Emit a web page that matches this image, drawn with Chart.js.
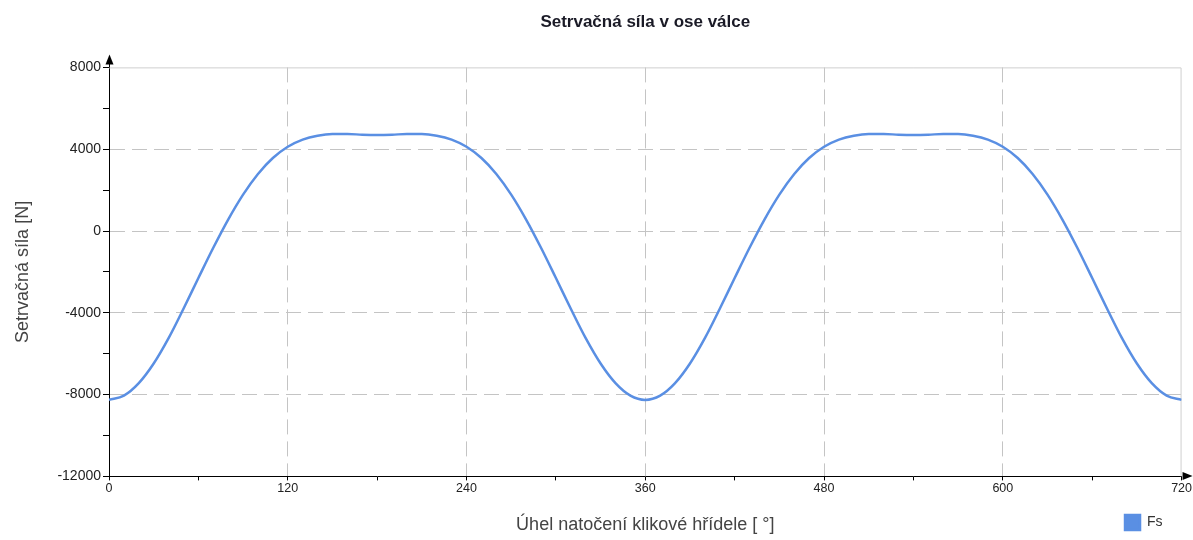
<!DOCTYPE html>
<html>
<head>
<meta charset="utf-8">
<title>Setrvačná síla v ose válce</title>
<script src="https://cdn.jsdelivr.net/npm/chart.js@4/dist/chart.umd.min.js"></script>
<style>
  html, body { margin: 0; padding: 0; background: #fff; }
  #wrap { width: 1193px; height: 540px; }
</style>
</head>
<body>
<div id="wrap"><canvas id="chart"></canvas></div>
<script>
// crank angle [deg], every 10 degrees
const angles = [
  0, 10, 20, 30, 40, 50, 60, 70, 80, 90, 100, 110, 120, 130, 140, 150, 160, 170,
  180, 190, 200, 210, 220, 230, 240, 250, 260, 270, 280, 290, 300, 310, 320, 330, 340, 350,
  360, 370, 380, 390, 400, 410, 420, 430, 440, 450, 460, 470, 480, 490, 500, 510, 520, 530,
  540, 550, 560, 570, 580, 590, 600, 610, 620, 630, 640, 650, 660, 670, 680, 690, 700, 710, 720
];

// inertial force Fs [N]
const fsValues = [
  -8260, -8050, -7440, -6480, -5240, -3800, -2300, -820, 560, 1780, 2790, 3570, 4120, 4470, 4660, 4740, 4740, 4712,
  4700, 4712, 4740, 4740, 4660, 4470, 4120, 3570, 2790, 1780, 560, -820, -2300, -3800, -5240, -6480, -7440, -8050,
  -8260, -8050, -7440, -6480, -5240, -3800, -2300, -820, 560, 1780, 2790, 3570, 4120, 4470, 4660, 4740, 4740, 4712,
  4700, 4712, 4740, 4740, 4660, 4470, 4120, 3570, 2790, 1780, 560, -820, -2300, -3800, -5240, -6480, -7440, -8050,
  -8260
];

const xLabelStep = 120;   // labelled x ticks: 0, 120, ... 720
const yLabelStep = 4000;  // labelled y ticks: -12000 ... 8000
const xMin = 0, xMax = 720;
const yMin = -12000, yMax = 8000;

const lineColor = '#5a8fe3';
const gridColor = '#c4c4c4';

// light frame on top and right side of the plot
const frame = {
  id: 'frame',
  beforeDatasetsDraw(chart) {
    const { ctx, chartArea: a } = chart;
    ctx.save();
    ctx.strokeStyle = '#cfcfcf';
    ctx.lineWidth = 1;
    ctx.beginPath();
    ctx.moveTo(a.left, a.top + 0.5);
    ctx.lineTo(a.right - 0.5, a.top + 0.5);
    ctx.lineTo(a.right - 0.5, a.bottom);
    ctx.stroke();
    ctx.restore();
  }
};

// arrow heads on the axes
const axisArrows = {
  id: 'axisArrows',
  afterDraw(chart) {
    const { ctx, chartArea: a } = chart;
    const x0 = a.left + 0.5, y0 = a.bottom - 0.5;
    ctx.save();
    ctx.strokeStyle = '#000';
    ctx.fillStyle = '#000';
    ctx.lineWidth = 1;
    ctx.beginPath();
    ctx.moveTo(x0, a.top);
    ctx.lineTo(x0, a.top - 6);
    ctx.stroke();
    ctx.beginPath();
    ctx.moveTo(x0, a.top - 13);
    ctx.lineTo(x0 - 4, a.top - 3);
    ctx.lineTo(x0 + 4, a.top - 3);
    ctx.closePath();
    ctx.fill();
    ctx.beginPath();
    ctx.moveTo(a.right + 11, y0);
    ctx.lineTo(a.right + 1, y0 - 4);
    ctx.lineTo(a.right + 1, y0 + 4);
    ctx.closePath();
    ctx.fill();
    ctx.restore();
  }
};

// nudge the legend a little left, as in the original
const legendShift = {
  id: 'legendShift',
  afterLayout(chart) {
    chart.legend.left -= 9;
    chart.legend.right -= 9;
  }
};

const ctx = document.getElementById('chart').getContext('2d');
new Chart(ctx, {
  type: 'line',
  data: {
    datasets: [{
      label: 'Fs',
      data: angles.map((a, i) => ({ x: a, y: fsValues[i] })),
      borderColor: lineColor,
      backgroundColor: lineColor,
      borderWidth: 2.5,
      pointRadius: 0,
      cubicInterpolationMode: 'monotone',
      fill: false,
    }],
  },
  options: {
    responsive: true,
    maintainAspectRatio: false,
    animation: false,
    layout: { padding: { left: 0, right: 0, top: 0, bottom: 0 } },
    font: { family: 'Arial, "Liberation Sans", sans-serif' },
    plugins: {
      title: {
        display: true,
        text: 'Setrvačná síla v ose válce',
        fullSize: false,
        color: '#1a1a26',
        font: { size: 17, weight: 'bold', family: 'Arial, "Liberation Sans", sans-serif' },
        padding: { top: 12, bottom: 35 },
      },
      legend: {
        position: 'bottom',
        align: 'end',
        fullSize: false,
        labels: {
          boxWidth: 15,
          boxHeight: 15,
          color: '#333',
          padding: 10,
          font: { size: 14, family: 'Arial, "Liberation Sans", sans-serif' },
        },
      },
      tooltip: { enabled: false },
    },
    scales: {
      x: {
        type: 'linear',
        min: xMin,
        max: xMax,
        ticks: {
          stepSize: 60,
          color: '#222',
          padding: 1,
          maxRotation: 0,
          autoSkip: false,
          font: { size: 12.5, family: 'Arial, "Liberation Sans", sans-serif' },
          callback: v => (v % xLabelStep === 0 ? v : ''),
        },
        grid: {
          color: c => (c.tick && c.tick.value % xLabelStep === 0 && c.tick.value !== xMin && c.tick.value !== xMax ? gridColor : 'transparent'),
          tickColor: '#000',
          tickLength: 4,
          lineWidth: 1,
        },
        border: { display: true, color: '#000', width: 1, dash: [15, 7] },
        title: {
          display: true,
          text: 'Úhel natočení klikové hřídele [ °]',
          color: '#444',
          font: { size: 18, family: 'Arial, "Liberation Sans", sans-serif' },
          padding: { top: 17, bottom: -31 },
        },
      },
      y: {
        min: yMin,
        max: yMax,
        afterFit: s => { s.width = 109; },
        ticks: {
          stepSize: 2000,
          color: '#222',
          padding: 2,
          autoSkip: false,
          font: { size: 14, family: 'Arial, "Liberation Sans", sans-serif' },
          callback: v => (v % yLabelStep === 0 ? v : ''),
        },
        grid: {
          color: c => (c.tick && c.tick.value % yLabelStep === 0 && c.tick.value !== yMin && c.tick.value !== yMax ? gridColor : 'transparent'),
          tickColor: '#000',
          tickLength: 6,
          lineWidth: 1,
        },
        border: { display: true, color: '#000', width: 1, dash: [15, 7] },
        title: {
          display: true,
          text: 'Setrvačná síla [N]',
          color: '#444',
          font: { size: 18, family: 'Arial, "Liberation Sans", sans-serif' },
          padding: { top: 12, bottom: 0 },
        },
      },
    },
  },
  plugins: [frame, axisArrows, legendShift],
});
</script>
</body>
</html>
